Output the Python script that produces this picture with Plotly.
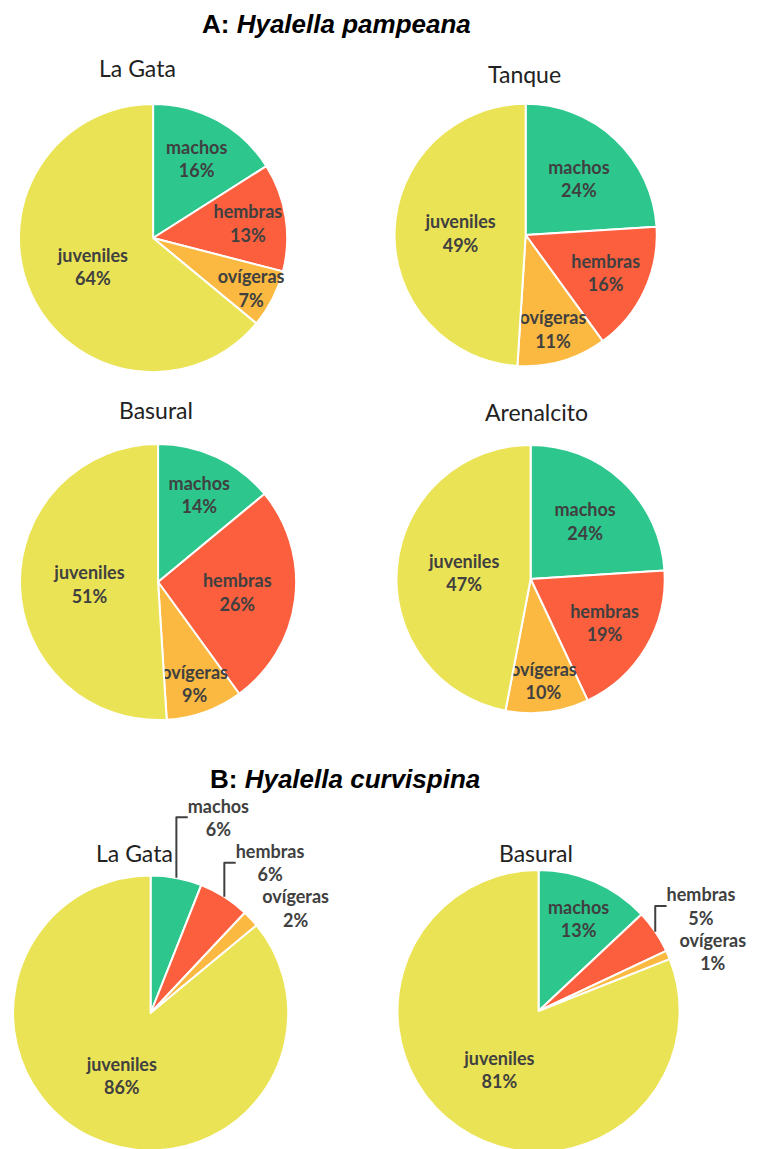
import plotly.graph_objects as go

# la pagina agrega 8 px de margen al body: se compensa con OFF
W, H = 769, 1250
OFF = 8

categorias = ["machos", "hembras", "ovígeras", "juveniles"]
colores = ["#2DC78E", "#FC5F3E", "#FBB941", "#EBE356"]

# porcentajes por sitio
la_gata_a = [16, 13, 7, 64]
tanque_a = [24, 16, 11, 49]
basural_a = [14, 26, 9, 51]
arenalcito_a = [24, 19, 10, 47]
la_gata_b = [6, 6, 2, 86]
basural_b = [13, 5, 1, 81]

sitios = ["La Gata", "Tanque", "Basural", "Arenalcito", "La Gata", "Basural"]
valores = [la_gata_a, tanque_a, basural_a, arenalcito_a, la_gata_b, basural_b]
posiciones_texto = [
    "inside", "inside", "inside", "inside",
    ["outside", "outside", "outside", "inside"],
    ["inside", "outside", "outside", "inside"],
]

# centro (px) y radio (px) de cada torta, en coordenadas de pantalla
geom = [
    (149, 238, 135), (524, 235, 132),
    (154, 582, 139), (529, 579, 135),
    (142, 1013, 143), (537, 1011, 142),
]
# posicion de los titulos de cada torta (px)
titulos_pos = [(133, 68), (523, 74), (152, 410), (535, 412), (130, 853), (534, 853)]


def px_x(x):
    return (x - OFF) / W


def px_y(y):
    return 1 - (y - OFF) / H


def dominio(cx, cy, r):
    x = [px_x(cx - r), px_x(cx + r)]
    y = [px_y(cy + r), px_y(cy - r)]
    return dict(x=[max(0, x[0]), min(1, x[1])], y=[max(0, y[0]), min(1, y[1])])


fig = go.Figure()
for vals, tp, (cx, cy, r) in zip(valores, posiciones_texto, geom):
    fig.add_trace(go.Pie(
        labels=categorias,
        values=vals,
        sort=False,
        direction="clockwise",
        rotation=0,
        marker=dict(colors=colores, line=dict(color="white", width=2)),
        texttemplate="<b>%{label}<br>%{percent}</b>",
        textposition=tp,
        insidetextorientation="horizontal",
        textfont=dict(family="Lato", size=18, color="#404040"),
        domain=dominio(cx, cy, r),
        showlegend=False,
        hoverinfo="label+percent",
    ))

annotations = [
    dict(text="<b>A: <i>Hyalella pampeana</i></b>", x=px_x(334), y=px_y(24),
         font=dict(family="Arial", size=26, color="black")),
    dict(text="<b>B: <i>Hyalella curvispina</i></b>", x=px_x(342), y=px_y(779),
         font=dict(family="Arial", size=26, color="black")),
]
for s, (tx, ty) in zip(sitios, titulos_pos):
    annotations.append(dict(text=s, x=px_x(tx), y=px_y(ty),
                            font=dict(family="Lato", size=23, color="#222")))
for a in annotations:
    a.update(xref="paper", yref="paper", showarrow=False, xanchor="center", yanchor="middle")

fig.update_layout(
    width=W, height=H,
    margin=dict(l=0, r=0, t=0, b=0),
    paper_bgcolor="white",
    uniformtext=dict(minsize=18, mode="show"),
    annotations=annotations,
)

fig.write_html("out.html")
